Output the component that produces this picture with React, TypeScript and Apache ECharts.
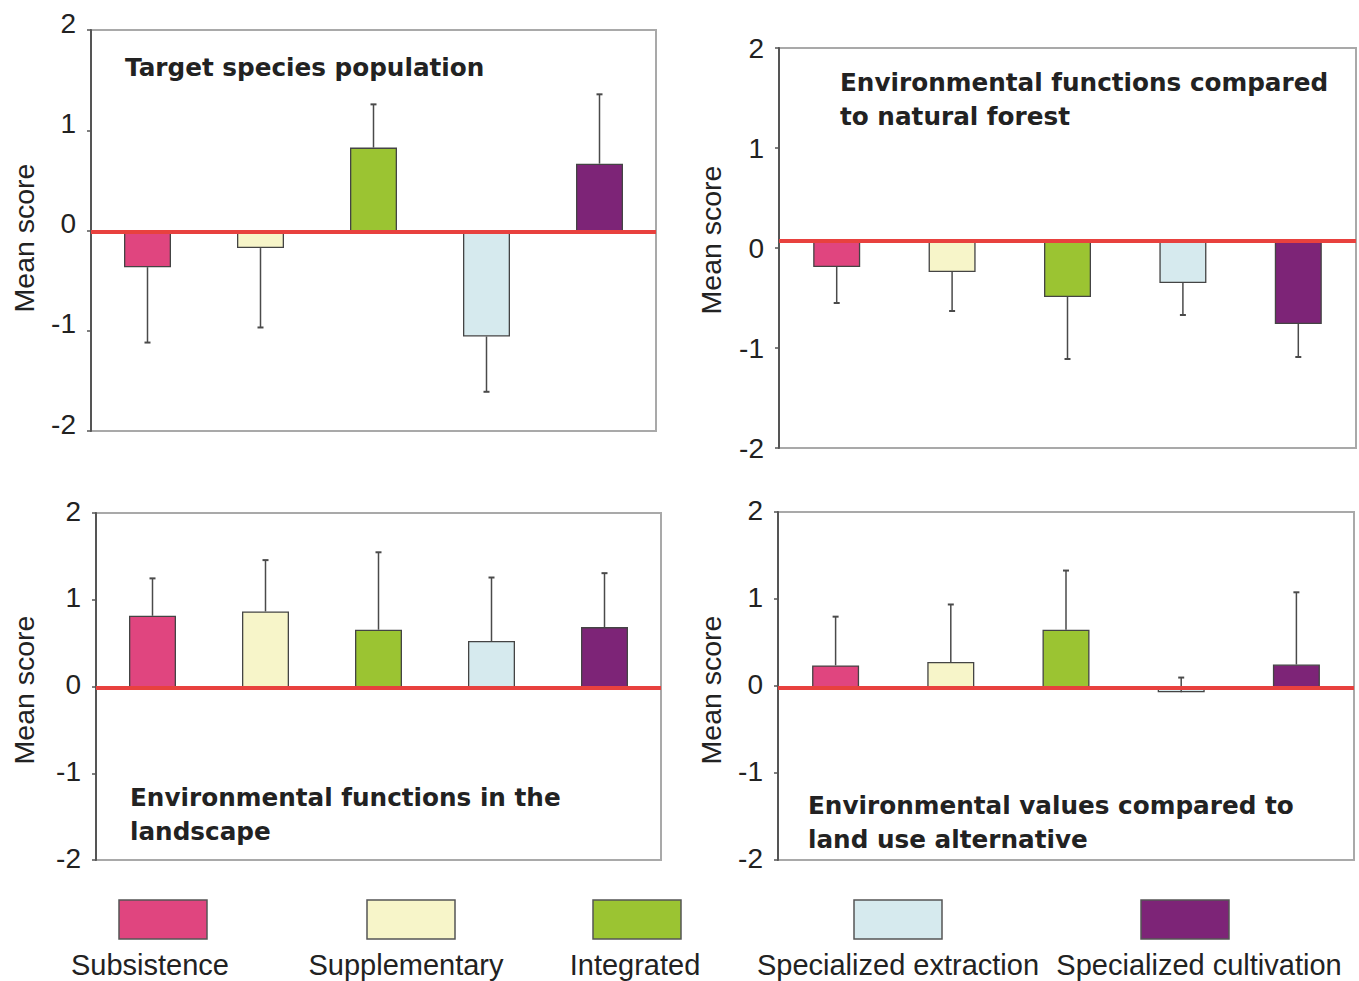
import React, { useEffect, useRef } from 'react';
import * as echarts from 'echarts';

// ---------------- data ----------------
const categories = [
  'Subsistence',
  'Supplementary',
  'Integrated',
  'Specialized extraction',
  'Specialized cultivation',
];
const categoryColors = ['#e0457f', '#f7f5c9', '#9bc432', '#d6eaee', '#7d2477'];

const yMin = -2;
const yMax = 2;
const yInterval = 1;

// Target species population
const targetMeans = [-0.35, -0.16, 0.84, -1.04, 0.68];
const targetErrEnds = [-1.1, -0.95, 1.27, -1.59, 1.37];

// Environmental functions compared to natural forest
const forestMeans = [-0.26, -0.31, -0.56, -0.42, -0.83];
const forestErrEnds = [-0.62, -0.7, -1.18, -0.74, -1.16];

// Environmental functions in the landscape
const landscapeMeans = [0.83, 0.88, 0.67, 0.54, 0.7];
const landscapeErrEnds = [1.26, 1.47, 1.56, 1.27, 1.32];

// Environmental values compared to land use alternative
const altMeans = [0.26, 0.3, 0.67, -0.05, 0.27];
const altErrEnds = [0.82, 0.96, 1.35, 0.12, 1.1];

const titles = [
  'Target species population',
  'Environmental functions compared\nto natural forest',
  'Environmental functions in the\nlandscape',
  'Environmental values compared to\nland use alternative',
];
const yAxisName = 'Mean score';

// ---------------- layout ----------------
const layout = [
  { l: 91, r: 656, at: 30, ab: 431, pt: 31, pb: 433, shift: -7, tx: 125, ty: 50, nx: 24, ny: 238 },
  { l: 779, r: 1356, at: 48, ab: 448, pt: 41, pb: 441, shift: 0, tx: 840, ty: 65, nx: 711, ny: 240 },
  { l: 96, r: 661, at: 513, ab: 860, pt: 514, pb: 862, shift: -2, tx: 130, ty: 780, nx: 24, ny: 690 },
  { l: 778, r: 1354, at: 512, ab: 860, pt: 514, pb: 862, shift: -2, tx: 808, ty: 788, nx: 711, ny: 690 },
];
const legendBoxX = [119, 367, 593, 854, 1141];
const legendTextX = [150, 406, 635, 898, 1199];

const panelData = [
  { means: targetMeans, errs: targetErrEnds },
  { means: forestMeans, errs: forestErrEnds },
  { means: landscapeMeans, errs: landscapeErrEnds },
  { means: altMeans, errs: altErrEnds },
];

const SANS = '"Liberation Sans", Arial, Helvetica, sans-serif';
const BOLD = '"DejaVu Sans", Verdana, sans-serif';

function buildOption() {
  const grid: any[] = [];
  const xAxis: any[] = [];
  const yAxis: any[] = [];
  const series: any[] = [];
  const graphic: any[] = [];

  layout.forEach((p, k) => {
    const w = p.r - p.l;
    const axisIdx = k * 2;
    const plotIdx = k * 2 + 1;
    grid.push({
      left: p.l,
      top: p.at,
      width: w,
      height: p.ab - p.at,
      show: true,
      borderColor: '#a9a9a9',
      borderWidth: 2,
      backgroundColor: 'transparent',
    });
    grid.push({ left: p.l, top: p.pt, width: w, height: p.pb - p.pt, show: false });

    xAxis.push({ gridIndex: axisIdx, type: 'category', data: categories, show: false });
    xAxis.push({ gridIndex: plotIdx, type: 'category', data: categories, show: false });

    const labelAlign: any =
      p.shift < 0
        ? { verticalAlign: 'bottom', lineHeight: -2 * p.shift }
        : { verticalAlign: 'middle' };
    yAxis.push({
      gridIndex: axisIdx,
      type: 'value',
      min: yMin,
      max: yMax,
      interval: yInterval,
      axisLine: { show: true, lineStyle: { color: '#555', width: 2 } },
      axisTick: { show: true, length: 4, lineStyle: { color: '#555', width: 1.5 } },
      splitLine: { show: false },
      axisLabel: {
        fontSize: 28,
        color: '#222',
        fontFamily: SANS,
        margin: 15,
        ...labelAlign,
      },
    });
    yAxis.push({ gridIndex: plotIdx, type: 'value', min: yMin, max: yMax, interval: yInterval, show: false });

    const d = panelData[k];
    series.push({
      type: 'bar',
      xAxisIndex: plotIdx,
      yAxisIndex: plotIdx,
      barWidth: 47,
      data: d.means.map((v, i) => ({ value: v, itemStyle: { color: categoryColors[i] } })),
      itemStyle: { borderColor: '#444', borderWidth: 1.3 },
      markLine: {
        silent: true,
        symbol: ['none', 'none'],
        label: { show: false },
        lineStyle: { color: '#e8413e', width: 4, type: 'solid' },
        data: [{ yAxis: 0 }],
      },
    });
    series.push({
      type: 'custom',
      xAxisIndex: plotIdx,
      yAxisIndex: plotIdx,
      data: d.means.map((v, i) => [i, v, d.errs[i]]),
      encode: { x: 0, y: [1, 2] },
      z: 3,
      renderItem: (params: any, api: any) => {
        const s = api.coord([api.value(0), api.value(1)]);
        const e = api.coord([api.value(0), api.value(2)]);
        return {
          type: 'group',
          children: [
            {
              type: 'line',
              shape: { x1: s[0], y1: s[1], x2: e[0], y2: e[1] },
              style: { stroke: '#4a4a4a', lineWidth: 1.5 },
            },
            {
              type: 'line',
              shape: { x1: e[0] - 3, y1: e[1], x2: e[0] + 3, y2: e[1] },
              style: { stroke: '#4a4a4a', lineWidth: 2 },
            },
          ],
        };
      },
    });

    graphic.push({
      type: 'text',
      x: p.tx,
      y: p.ty,
      style: {
        text: titles[k],
        fill: '#222',
        fontFamily: BOLD,
        fontWeight: 'bold',
        fontSize: 24.7,
        lineHeight: 34,
        textAlign: 'left',
        textVerticalAlign: 'top',
      },
    });
    graphic.push({
      type: 'text',
      x: p.nx,
      y: p.ny,
      rotation: Math.PI / 2,
      style: {
        text: yAxisName,
        fill: '#222',
        fontFamily: SANS,
        fontSize: 28.5,
        textAlign: 'center',
        textVerticalAlign: 'middle',
      },
    });
  });

  categories.forEach((c, i) => {
    graphic.push({
      type: 'rect',
      shape: { x: legendBoxX[i], y: 900, width: 88, height: 39 },
      style: { fill: categoryColors[i], stroke: '#555', lineWidth: 1.5 },
    });
    graphic.push({
      type: 'text',
      x: legendTextX[i],
      y: 965,
      style: {
        text: c,
        fill: '#222',
        fontFamily: SANS,
        fontSize: 29,
        textAlign: 'center',
        textVerticalAlign: 'middle',
      },
    });
  });

  return {
    animation: false,
    backgroundColor: '#ffffff',
    grid,
    xAxis,
    yAxis,
    series,
    graphic,
  };
}

export default function App() {
  const ref = useRef<HTMLDivElement>(null);
  useEffect(() => {
    if (!ref.current) return;
    const chart = echarts.init(ref.current, undefined, { renderer: 'svg' });
    chart.setOption(buildOption() as any);
    return () => chart.dispose();
  }, []);
  return (
    <div
      ref={ref}
      style={{ position: 'absolute', left: 0, top: 0, width: 1359, height: 981 }}
    />
  );
}
